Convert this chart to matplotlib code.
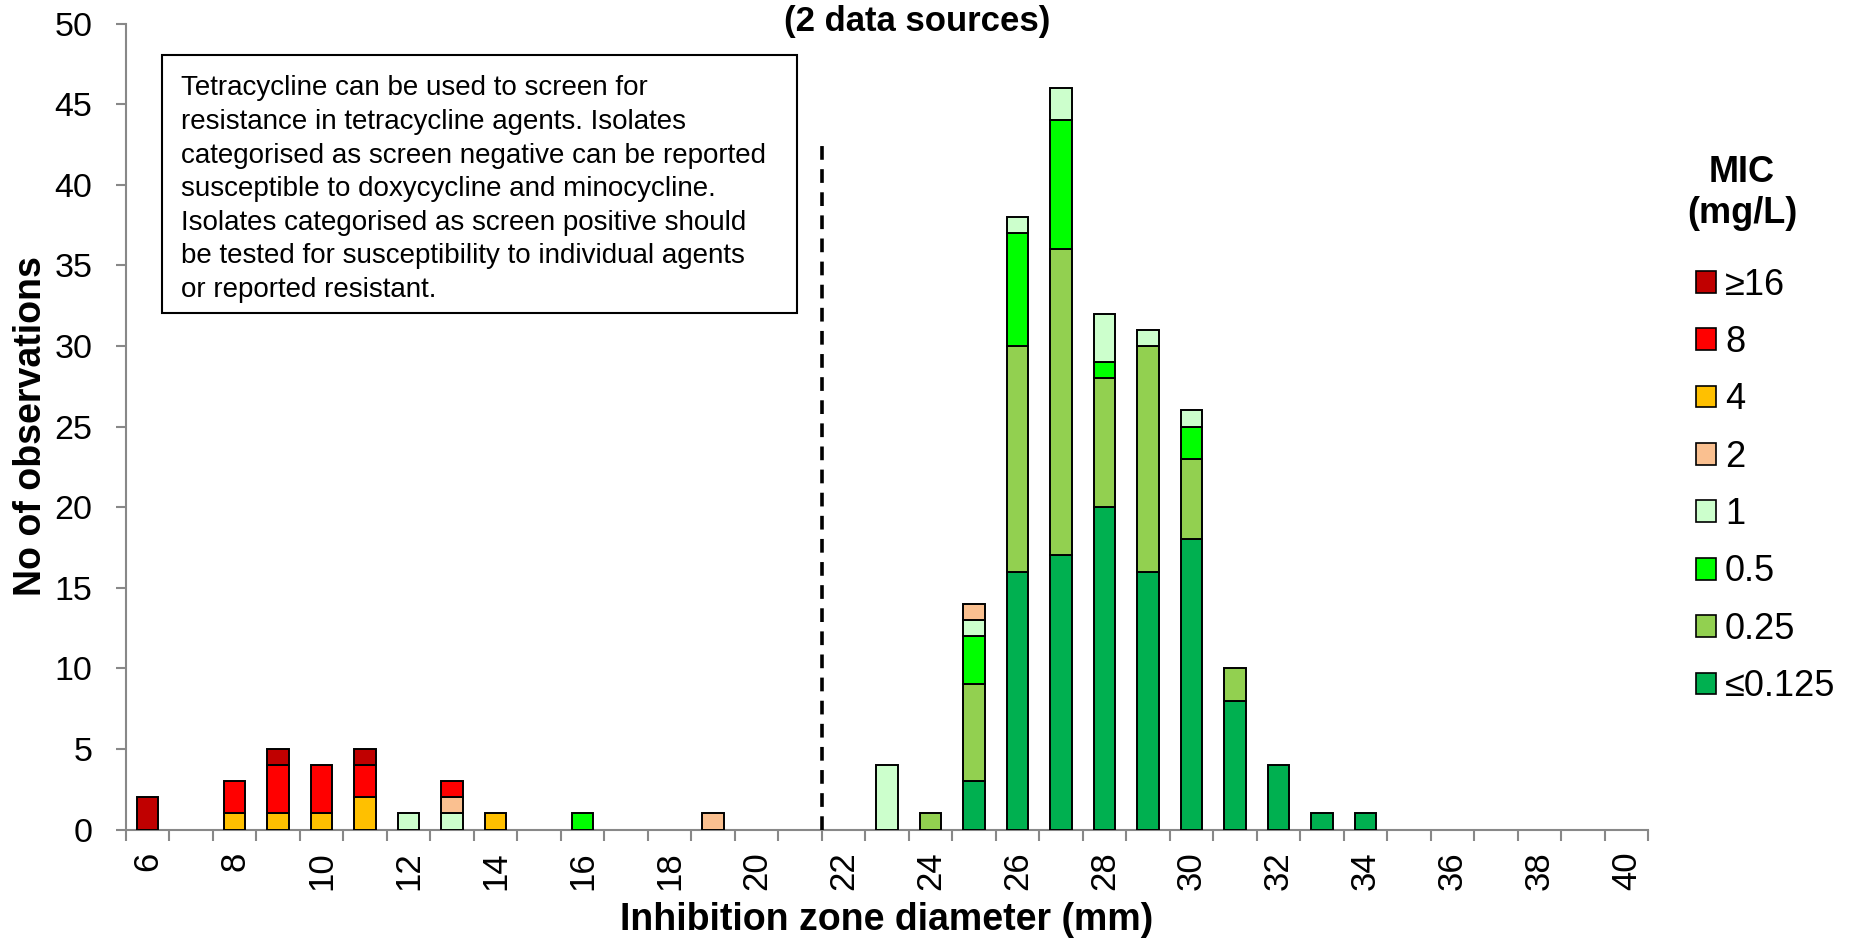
import numpy as np
import matplotlib
matplotlib.use("Agg")
import matplotlib.pyplot as plt
from matplotlib.patches import Patch, Rectangle

plt.rcParams['font.family'] = ['Liberation Sans', 'DejaVu Sans']

# zone diameters (mm), one bar per mm
diameters = list(range(6, 41))

# MIC groups, bottom of stack first
mic_labels = ['\u22640.125', '0.25', '0.5', '1', '2', '4', '8', '\u226516']
mic_colors = ['#00B050', '#92D050', '#00FF00', '#CCFFCC', '#FAC090', '#FFC000', '#FF0000', '#C00000']

# counts per diameter for each MIC group (only nonzero diameters listed)
le_0125 = {25: 3, 26: 16, 27: 17, 28: 20, 29: 16, 30: 18, 31: 8, 32: 4, 33: 1, 34: 1}
mic_025 = {24: 1, 25: 6, 26: 14, 27: 19, 28: 8, 29: 14, 30: 5, 31: 2}
mic_05 = {16: 1, 25: 3, 26: 7, 27: 8, 28: 1, 30: 2}
mic_1 = {12: 1, 13: 1, 23: 4, 25: 1, 26: 1, 27: 2, 28: 3, 29: 1, 30: 1}
mic_2 = {13: 1, 19: 1, 25: 1}
mic_4 = {8: 1, 9: 1, 10: 1, 11: 2, 14: 1}
mic_8 = {8: 2, 9: 3, 10: 3, 11: 2, 13: 1}
ge_16 = {6: 2, 9: 1, 11: 1}

series = [le_0125, mic_025, mic_05, mic_1, mic_2, mic_4, mic_8, ge_16]

breakpoint_mm = 21.5
breakpoint_top = 42.5
note = ("Tetracycline can be used to screen for\n"
        "resistance in tetracycline agents. Isolates\n"
        "categorised as screen negative can be reported\n"
        "susceptible to doxycycline and minocycline.\n"
        "Isolates categorised as screen positive should\n"
        "be tested for susceptibility to individual agents\n"
        "or reported resistant.")

fig = plt.figure(figsize=(18.5, 9.42), dpi=100)
ax = fig.add_axes([0.068, 0.1194, 0.823, 0.8556])

x = np.array(diameters)
bottom = np.zeros(len(x))
for s, lab, col in zip(series, mic_labels, mic_colors):
    vals = np.array([s.get(d, 0) for d in diameters])
    mask = vals > 0
    ax.bar(x[mask], vals[mask], width=0.5, bottom=bottom[mask], color=col,
           edgecolor='black', linewidth=1.4, label=lab, zorder=3)
    bottom += vals

ax.plot([breakpoint_mm, breakpoint_mm], [0, breakpoint_top], color='black',
        linestyle=(0, (3.8, 2.6)), linewidth=2.6, zorder=4)

ax.set_xlim(5.5, 40.5)
ax.set_ylim(0, 50)
ax.set_yticks(range(0, 51, 5))
ax.set_xticks(range(6, 41, 2))
ax.set_xticks(np.arange(5.5, 41, 1), minor=True)
ax.tick_params(axis='x', which='major', length=0, labelsize=25, labelrotation=90, pad=16)
ax.tick_params(axis='x', which='minor', length=8, width=1.5, color='#888888', direction='out')
ax.tick_params(axis='y', length=7, width=1.5, color='#888888', labelsize=24.5, pad=17)

for side in ['top', 'right']:
    ax.spines[side].set_visible(False)
for side in ['left', 'bottom']:
    ax.spines[side].set_color('#888888')
    ax.spines[side].set_linewidth(1.5)

ax.set_xlabel('Inhibition zone diameter (mm)', fontsize=27, fontweight='bold', labelpad=8)
ax.set_ylabel('No of observations', fontsize=27, fontweight='bold', labelpad=4)

fig.text(0.4957, 0.977, '(2 data sources)', ha='center', va='center', fontsize=25, fontweight='bold')

# note box
fig.patches.append(Rectangle((0.0876, 0.6677), 0.3432, 0.2734, transform=fig.transFigure,
                             facecolor='white', edgecolor='black', linewidth=1.5, zorder=5))
fig.text(0.0976, 1 - 297 / 942, note, fontsize=20, va='baseline', ha='left',
         linespacing=1.38, zorder=6)

# legend
fig.text(0.9416, 1 - 182 / 942, 'MIC', ha='center', va='baseline', fontsize=26, fontweight='bold')
fig.text(0.9416, 1 - 223 / 942, '(mg/L)', ha='center', va='baseline', fontsize=26, fontweight='bold')
handles = [Patch(facecolor=c, edgecolor='black', linewidth=1.2, label=l)
           for l, c in zip(mic_labels, mic_colors)]
fig.legend(handles[::-1], mic_labels[::-1], loc='upper left',
           bbox_to_anchor=(0.8992, 0.7505), frameon=False, fontsize=26,
           handlelength=0.55, handleheight=0.55, handletextpad=0.25, labelspacing=0.62)

fig.savefig('out.png', dpi=100)
